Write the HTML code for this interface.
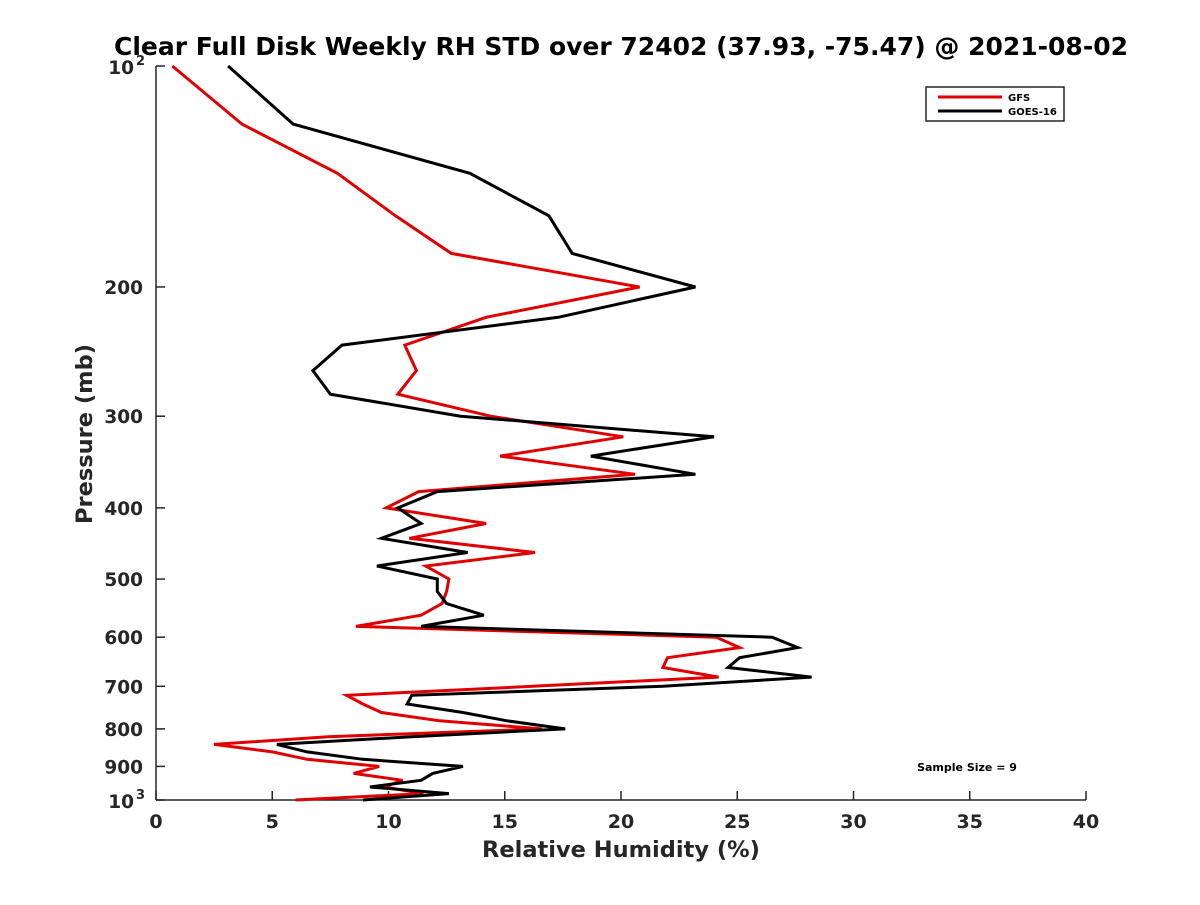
<!DOCTYPE html>
<html><head><meta charset="utf-8"><style>
body{margin:0;background:#fff;}
svg text{font-family:"DejaVu Sans","Liberation Sans",sans-serif;font-weight:bold;fill:#262626;}
</style></head><body>
<svg id="chart" width="1200" height="900" viewBox="0 0 1200 900" xmlns="http://www.w3.org/2000/svg">
<rect width="1200" height="900" fill="#fff"/>
<text x="621" y="55" text-anchor="middle" font-size="25" style="fill:#000">Clear Full Disk Weekly RH STD over 72402 (37.93, -75.47) @ 2021-08-02</text>
<g id="axes"></g>
<g id="series"></g>
<text x="621" y="857" text-anchor="middle" font-size="22.5">Relative Humidity (%)</text>
<text transform="translate(92,434) rotate(-90)" text-anchor="middle" font-size="22.5">Pressure (mb)</text>
<g>
<rect x="926" y="87" width="138" height="34" fill="#fff" stroke="#262626" stroke-width="1.5"/>
<line x1="938" y1="97" x2="1002" y2="97" stroke="#e00000" stroke-width="3"/>
<text x="1008" y="101" font-size="10" style="fill:#000">GFS</text>
<line x1="938" y1="111" x2="1002" y2="111" stroke="#000" stroke-width="3"/>
<text x="1008" y="115" font-size="10" style="fill:#000">GOES-16</text>
</g>
<text x="967" y="771" text-anchor="middle" font-size="11" style="fill:#000">Sample Size = 9</text>
</svg>
<script>
const pressures=[100,120,140,160,180,200,220,240,260,280,300,320,340,360,380,400,420,440,460,480,500,520,540,560,580,600,620,640,660,680,700,720,740,760,780,800,820,840,860,880,900,920,940,960,980,1000];
const gfsValues=[0.7,3.7,7.8,10.3,12.7,20.8,14.2,10.7,11.2,10.4,14.4,20.1,14.8,20.6,11.3,9.9,14.2,10.9,16.3,11.6,12.6,12.5,12.3,11.4,8.6,24.1,25.1,22.0,21.8,24.2,16.2,8.2,8.9,9.7,12.2,16.6,7.4,2.5,5.0,6.5,9.6,8.5,10.6,9.8,11.5,6.0];
const goesValues=[3.1,5.9,13.5,16.9,17.9,23.2,17.3,8.0,6.75,7.5,13.1,24.0,18.7,23.2,12.1,10.4,11.4,9.7,13.4,9.5,12.1,12.1,12.5,14.1,11.4,26.5,27.6,25.1,24.6,28.2,21.8,11.0,10.8,13.2,15.1,17.6,11.0,5.2,6.5,8.9,13.2,11.9,11.4,9.2,12.6,8.9];
const xTicks=[0,5,10,15,20,25,30,35,40];
const yTicks=[200,300,400,500,600,700,800,900];

const X0=156,X1=1086,Y0=66,Y1=800;
const xs=v=>X0+(v-0)/(40-0)*(X1-X0);
const ys=p=>Y0+(Math.log10(p)-2)*(Y1-Y0);
const NS="http://www.w3.org/2000/svg";
function mk(tag,attrs,parent){const e=document.createElementNS(NS,tag);for(const k in attrs)e.setAttribute(k,attrs[k]);parent.appendChild(e);return e;}
const ax=document.getElementById('axes');
const yAxis=mk('line',{x1:X0,y1:Y0,x2:X0,y2:Y1,stroke:'#262626','stroke-width':1.5},ax);


const xAxis=mk('line',{x1:X0,y1:Y1,x2:X1,y2:Y1,stroke:'#262626','stroke-width':1.5},ax);


xTicks.forEach(t=>{
  mk('line',{x1:xs(t),y1:Y1,x2:xs(t),y2:Y1-9,stroke:'#262626','stroke-width':1.5},ax);
  const tx=mk('text',{x:xs(t),y:Y1+28,'text-anchor':'middle','font-size':19},ax);
  tx.textContent=t;
  
  
});
[100,1000].concat(yTicks).forEach(p=>{
  mk('line',{x1:X0,y1:ys(p),x2:X0+9,y2:ys(p),stroke:'#262626','stroke-width':1.5},ax);
});
yTicks.forEach(p=>{
  const tx=mk('text',{x:X0-13,y:ys(p)+7,'text-anchor':'end','font-size':18.5},ax);
  tx.textContent=p;
  
  
});
[[100,'2'],[1000,'3']].forEach(([p,e])=>{
  const tx=mk('text',{x:X0-22,y:ys(p)+8,'text-anchor':'end','font-size':18.5},ax);
  tx.textContent='10';
  
  
  const sp=mk('text',{x:X0-11,y:ys(p)-1,'text-anchor':'end','font-size':13},ax);
  sp.textContent=e;
});
const sg=document.getElementById('series');
function line(vals,color,name){
  const pts=vals.map((v,i)=>xs(v).toFixed(1)+','+ys(pressures[i]).toFixed(1)).join(' ');
  const pl=mk('polyline',{points:pts,fill:'none',stroke:color,'stroke-width':3,'stroke-linejoin':'miter'},sg);
  
  
}
line(gfsValues,'#e00000','gfs-line');
line(goesValues,'#000000','goes-16-line');
</script>
</body></html>
